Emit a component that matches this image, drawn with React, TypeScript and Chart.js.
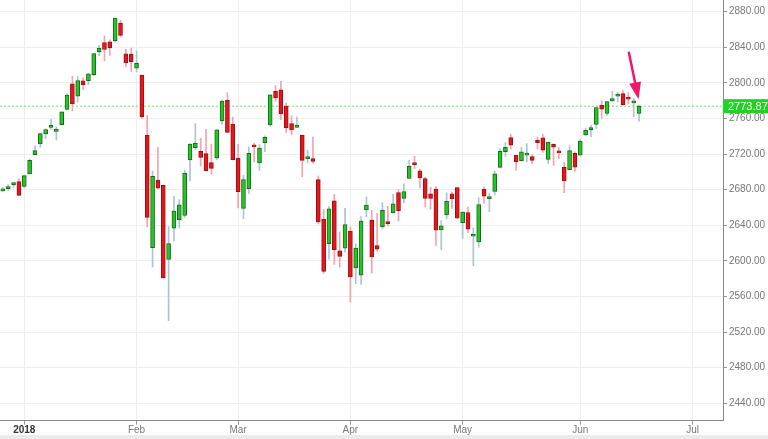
import React, { useEffect, useRef } from 'react';
import { Chart, registerables } from 'chart.js';

Chart.register(...registerables);

const dates = [
  '2017-12-26', '2017-12-27', '2017-12-28', '2017-12-29',
  '2018-01-02', '2018-01-03', '2018-01-04', '2018-01-05', '2018-01-08', '2018-01-09', '2018-01-10', '2018-01-11', '2018-01-12',
  '2018-01-16', '2018-01-17', '2018-01-18', '2018-01-19', '2018-01-22', '2018-01-23', '2018-01-24', '2018-01-25', '2018-01-26',
  '2018-01-29', '2018-01-30', '2018-01-31',
  '2018-02-01', '2018-02-02', '2018-02-05', '2018-02-06', '2018-02-07', '2018-02-08', '2018-02-09', '2018-02-12', '2018-02-13',
  '2018-02-14', '2018-02-15', '2018-02-16', '2018-02-20', '2018-02-21', '2018-02-22', '2018-02-23', '2018-02-26', '2018-02-27', '2018-02-28',
  '2018-03-01', '2018-03-02', '2018-03-05', '2018-03-06', '2018-03-07', '2018-03-08', '2018-03-09', '2018-03-12', '2018-03-13',
  '2018-03-14', '2018-03-15', '2018-03-16', '2018-03-19', '2018-03-20', '2018-03-21', '2018-03-22', '2018-03-23', '2018-03-26',
  '2018-03-27', '2018-03-28', '2018-03-29',
  '2018-04-02', '2018-04-03', '2018-04-04', '2018-04-05', '2018-04-06', '2018-04-09', '2018-04-10', '2018-04-11', '2018-04-12',
  '2018-04-13', '2018-04-16', '2018-04-17', '2018-04-18', '2018-04-19', '2018-04-20', '2018-04-23', '2018-04-24', '2018-04-25',
  '2018-04-26', '2018-04-27', '2018-04-30',
  '2018-05-01', '2018-05-02', '2018-05-03', '2018-05-04', '2018-05-07', '2018-05-08', '2018-05-09', '2018-05-10', '2018-05-11',
  '2018-05-14', '2018-05-15', '2018-05-16', '2018-05-17', '2018-05-18', '2018-05-21', '2018-05-22', '2018-05-23', '2018-05-24',
  '2018-05-25', '2018-05-29', '2018-05-30', '2018-05-31',
  '2018-06-01', '2018-06-04', '2018-06-05', '2018-06-06', '2018-06-07', '2018-06-08', '2018-06-11', '2018-06-12', '2018-06-13',
  '2018-06-14', '2018-06-15', '2018-06-18',
];

const opens = [
  2679.09, 2682.10, 2686.10, 2689.15,
  2683.73, 2697.85, 2719.31, 2731.33, 2742.67, 2751.15, 2745.55, 2752.97, 2770.18, 2798.96, 2784.99, 2802.40, 2802.60, 2809.16, 2835.05, 2845.42, 2846.24, 2847.48, 2867.23, 2832.74, 2832.41,
  2816.45, 2808.92, 2741.06, 2614.78, 2690.95, 2685.01, 2601.78, 2636.75, 2646.27, 2651.21, 2713.46, 2727.14, 2722.99, 2720.53, 2710.42, 2715.80, 2757.37, 2780.45, 2753.78,
  2715.22, 2658.89, 2681.06, 2730.18, 2710.18, 2732.75, 2752.91, 2790.54, 2792.31, 2774.06, 2754.27, 2750.57, 2741.38, 2715.05, 2714.99, 2691.36, 2646.71, 2619.35, 2667.57, 2611.30, 2614.41,
  2633.45, 2592.17, 2584.04, 2657.36, 2645.82, 2617.18, 2638.41, 2643.89, 2653.83, 2676.90, 2670.10, 2692.74, 2710.11, 2701.16, 2692.56, 2675.40, 2680.80, 2634.92, 2651.65, 2675.47, 2682.51,
  2642.96, 2654.24, 2628.08, 2621.45, 2680.34, 2670.26, 2678.12, 2705.02, 2722.70, 2738.47, 2718.59, 2712.62, 2719.71, 2717.35, 2735.39, 2738.34, 2713.98, 2730.94, 2723.60, 2705.11, 2702.43, 2720.98,
  2718.70, 2741.67, 2748.46, 2753.25, 2774.84, 2765.84, 2780.18, 2785.60, 2787.94, 2783.21, 2777.78, 2765.79,
];

const highs = [
  2682.74, 2685.64, 2687.66, 2692.12,
  2695.89, 2714.37, 2729.29, 2743.45, 2748.51, 2759.14, 2750.80, 2767.56, 2787.85, 2807.54, 2807.04, 2805.83, 2810.33, 2833.03, 2842.24, 2852.97, 2848.56, 2872.87, 2870.62, 2837.75, 2839.26,
  2835.96, 2808.92, 2763.39, 2701.04, 2727.67, 2685.27, 2638.67, 2672.61, 2668.84, 2702.10, 2731.51, 2754.42, 2737.60, 2747.75, 2731.26, 2747.76, 2780.64, 2789.15, 2761.52,
  2730.89, 2696.25, 2728.09, 2732.08, 2730.60, 2740.45, 2786.57, 2796.98, 2801.90, 2777.11, 2763.03, 2761.85, 2741.38, 2724.22, 2739.14, 2695.68, 2657.67, 2661.36, 2674.78, 2632.65, 2659.07,
  2638.30, 2619.14, 2649.86, 2672.08, 2656.88, 2653.55, 2665.45, 2661.43, 2674.72, 2680.26, 2686.49, 2713.34, 2717.49, 2702.84, 2693.94, 2682.86, 2683.55, 2645.30, 2676.48, 2677.35, 2682.87,
  2655.27, 2660.87, 2637.14, 2670.93, 2683.35, 2676.34, 2701.27, 2726.11, 2732.86, 2742.10, 2718.59, 2727.76, 2731.96, 2719.50, 2739.19, 2742.24, 2733.33, 2731.97, 2727.36, 2710.67, 2729.34, 2722.50,
  2736.93, 2749.16, 2752.61, 2772.39, 2779.90, 2779.39, 2790.21, 2789.80, 2791.47, 2789.06, 2782.81, 2774.99,
];

const lows = [
  2677.96, 2678.91, 2682.69, 2673.61,
  2682.36, 2697.77, 2719.07, 2727.92, 2737.60, 2747.86, 2736.06, 2752.78, 2769.64, 2768.64, 2778.38, 2792.56, 2798.08, 2808.12, 2830.59, 2824.81, 2830.94, 2846.18, 2851.48, 2818.27, 2813.04,
  2812.70, 2759.97, 2638.17, 2593.07, 2681.33, 2580.56, 2532.69, 2622.45, 2637.08, 2648.87, 2689.82, 2725.11, 2706.76, 2701.29, 2697.77, 2713.74, 2753.78, 2744.22, 2713.54,
  2659.65, 2647.32, 2675.75, 2711.26, 2701.74, 2722.65, 2751.54, 2779.26, 2758.68, 2744.38, 2741.47, 2749.97, 2694.59, 2710.05, 2709.79, 2641.59, 2585.89, 2601.81, 2596.12, 2593.06, 2609.72,
  2553.80, 2574.49, 2573.61, 2649.58, 2586.27, 2610.79, 2635.78, 2639.25, 2653.83, 2645.05, 2665.16, 2692.05, 2703.63, 2681.90, 2660.61, 2657.99, 2617.32, 2612.67, 2647.16, 2659.01, 2648.04,
  2625.41, 2631.70, 2594.62, 2615.32, 2664.70, 2655.20, 2674.14, 2704.54, 2717.45, 2725.47, 2701.91, 2712.17, 2711.36, 2709.18, 2725.70, 2721.88, 2709.54, 2707.38, 2714.99, 2676.81, 2702.43, 2700.68,
  2718.70, 2740.54, 2739.51, 2748.46, 2760.16, 2763.59, 2779.39, 2778.78, 2774.65, 2776.52, 2761.73, 2757.12,
];

const closes = [
  2680.50, 2682.62, 2687.54, 2673.61,
  2695.81, 2713.06, 2723.99, 2743.15, 2747.71, 2751.29, 2748.23, 2767.56, 2786.24, 2776.42, 2802.56, 2798.03, 2810.30, 2832.97, 2839.13, 2837.54, 2839.25, 2872.87, 2853.53, 2822.43, 2823.81,
  2821.98, 2762.13, 2648.94, 2695.14, 2681.66, 2581.00, 2619.55, 2656.00, 2662.94, 2698.63, 2731.20, 2732.22, 2716.26, 2701.33, 2703.96, 2747.30, 2779.60, 2744.28, 2713.83,
  2677.67, 2691.25, 2720.94, 2728.12, 2726.80, 2738.97, 2786.57, 2783.02, 2765.31, 2749.48, 2747.33, 2752.01, 2712.92, 2716.94, 2711.93, 2643.69, 2588.26, 2658.55, 2612.62, 2605.00, 2640.87,
  2581.88, 2614.45, 2644.69, 2662.84, 2604.47, 2613.16, 2656.87, 2642.19, 2663.99, 2656.30, 2677.84, 2706.39, 2708.64, 2693.13, 2670.14, 2670.29, 2634.56, 2639.40, 2666.94, 2669.91, 2648.05,
  2654.80, 2635.67, 2629.73, 2663.42, 2672.63, 2671.92, 2697.79, 2723.07, 2727.72, 2730.13, 2711.45, 2722.46, 2720.13, 2712.97, 2733.01, 2724.44, 2733.29, 2727.76, 2721.33, 2689.86, 2724.01, 2705.27,
  2734.62, 2746.87, 2748.80, 2772.35, 2770.37, 2779.03, 2782.00, 2786.85, 2775.63, 2782.49, 2779.66, 2773.87,
];

// Month ticks sit on the first trading session of each month (index 0 = 2018-01-02)
const monthTickIdx = [0, 21, 40, 61, 82, 104, 125];
const monthLabels = ['2018', 'Feb', 'Mar', 'Apr', 'May', 'Jun', 'Jul'];
const yTicks = [2440, 2480, 2520, 2560, 2600, 2640, 2680, 2720, 2760, 2800, 2840, 2880];
const lastPrice = 2773.87;
const xRange = [-4.54, 130.7];
const yRange = [2420.4, 2893.2];
const arrowFrom = [113.1, 2834];
const arrowTip = [114.9, 2781.6];

const UP_FILL = '#27c427';
const UP_BORDER = '#176b17';
const DOWN_FILL = '#e5161c';
const DOWN_BORDER = '#9a1014';
const UP_WICK = '#a9c5d6';
const DOWN_WICK = '#f2a4ae';

const overlayPlugin = {
  id: 'overlay',
  afterDraw(chart: any) {
    const { ctx, chartArea } = chart;
    const xs = chart.scales.x;
    const ys = chart.scales.y;
    // arrow
    const x1 = xs.getPixelForValue(arrowFrom[0]);
    const y1 = ys.getPixelForValue(arrowFrom[1]);
    const x2 = xs.getPixelForValue(arrowTip[0]);
    const y2 = ys.getPixelForValue(arrowTip[1]);
    const ang = Math.atan2(y2 - y1, x2 - x1);
    const headLen = 17;
    const headW = 6;
    const bx = x2 - headLen * Math.cos(ang);
    const by = y2 - headLen * Math.sin(ang);
    ctx.save();
    ctx.strokeStyle = '#f0176c';
    ctx.fillStyle = '#f0176c';
    ctx.lineWidth = 2.5;
    ctx.lineCap = 'round';
    ctx.beginPath();
    ctx.moveTo(x1, y1);
    ctx.lineTo(bx, by);
    ctx.stroke();
    ctx.beginPath();
    ctx.moveTo(x2, y2);
    ctx.lineTo(bx + headW * Math.sin(ang), by - headW * Math.cos(ang));
    ctx.lineTo(bx - headW * Math.sin(ang), by + headW * Math.cos(ang));
    ctx.closePath();
    ctx.fill();
    // last price badge
    const py = ys.getPixelForValue(lastPrice);
    ctx.fillStyle = '#1fd41f';
    ctx.fillRect(chartArea.right, py - 7, chart.width - chartArea.right, 14);
    ctx.fillStyle = '#ffffff';
    ctx.font = '11px "Liberation Sans", Arial, sans-serif';
    ctx.textBaseline = 'middle';
    ctx.textAlign = 'left';
    ctx.fillText(lastPrice.toFixed(2), chartArea.right + 5, py + 0.5);
    ctx.restore();
  },
};

export default function App() {
  const ref = useRef<HTMLCanvasElement | null>(null);

  useEffect(() => {
    if (!ref.current) return;
    const startIdx = dates.indexOf('2018-01-02');
    const xs = dates.map((_, i) => i - startIdx);
    const up = closes.map((c, i) => c >= opens[i]);
    const minBody = 2.4;
    const bodies = xs.map((x, i) => {
      let a = Math.min(opens[i], closes[i]);
      let b = Math.max(opens[i], closes[i]);
      if (b - a < minBody) {
        const m = (a + b) / 2;
        a = m - minBody / 2;
        b = m + minBody / 2;
      }
      return { x, y: [a, b] };
    });
    const wicks = xs.map((x, i) => ({ x, y: [lows[i], highs[i]] }));

    const chart = new Chart(ref.current, {
      type: 'bar',
      data: {
        datasets: [
          {
            type: 'line',
            data: [
              { x: xRange[0], y: lastPrice },
              { x: xRange[1], y: lastPrice },
            ],
            borderColor: '#74de74',
            borderWidth: 1,
            borderDash: [2, 2],
            pointRadius: 0,
            order: 3,
          } as any,
          {
            data: wicks as any,
            backgroundColor: up.map((u) => (u ? UP_WICK : DOWN_WICK)),
            barThickness: 1,
            grouped: false,
            order: 2,
          } as any,
          {
            data: bodies as any,
            backgroundColor: up.map((u) => (u ? UP_FILL : DOWN_FILL)),
            borderColor: up.map((u) => (u ? UP_BORDER : DOWN_BORDER)),
            borderWidth: 1,
            borderSkipped: false,
            barThickness: 4,
            grouped: false,
            order: 1,
          } as any,
        ],
      },
      options: {
        responsive: false,
        animation: false,
        devicePixelRatio: 1,
        layout: { padding: 0 },
        plugins: { legend: { display: false }, tooltip: { enabled: false } },
        scales: {
          x: {
            type: 'linear',
            min: xRange[0],
            max: xRange[1],
            offset: false,
            afterBuildTicks: (s: any) => {
              s.ticks = monthTickIdx.map((v) => ({ value: v }));
            },
            afterFit: (s: any) => {
              s.height = 14.3;
              s.paddingLeft = 0;
              s.paddingRight = 0;
            },
            grid: { color: '#eeeeee', tickColor: '#999999', tickLength: 4, offset: false },
            border: { display: true, color: '#8a8a8a' },
            ticks: {
              autoSkip: false,
              maxRotation: 0,
              padding: 0,
              callback: (_v: any, i: number) => monthLabels[i],
              font: (c: any) => ({
                family: '"Liberation Sans", Arial, sans-serif',
                size: 10,
                weight: c.index === 0 ? 'bold' : 'normal',
              }),
              color: (c: any) => (c.index === 0 ? '#333333' : '#777777'),
            },
          },
          y: {
            type: 'linear',
            position: 'right',
            min: yRange[0],
            max: yRange[1],
            afterBuildTicks: (s: any) => {
              s.ticks = yTicks.map((v) => ({ value: v }));
            },
            afterFit: (s: any) => {
              s.width = 45;
              s.paddingTop = 0;
              s.paddingBottom = 0;
            },
            grid: { color: '#eeeeee', tickColor: '#999999', tickLength: 4 },
            border: { display: true, color: '#8a8a8a' },
            ticks: {
              padding: 2,
              callback: (v: any) => Number(v).toFixed(2),
              font: { family: '"Liberation Sans", Arial, sans-serif', size: 10 },
              color: '#777777',
            },
          },
        },
      },
      plugins: [overlayPlugin],
    } as any);

    return () => chart.destroy();
  }, []);

  return (
    <div style={{ position: 'fixed', left: 0, top: 0, width: 768, height: 439, background: '#ffffff' }}>
      <canvas ref={ref} width={768} height={435} style={{ display: 'block' }} />
      <div style={{ height: 4, background: '#ebebeb' }} />
    </div>
  );
}
